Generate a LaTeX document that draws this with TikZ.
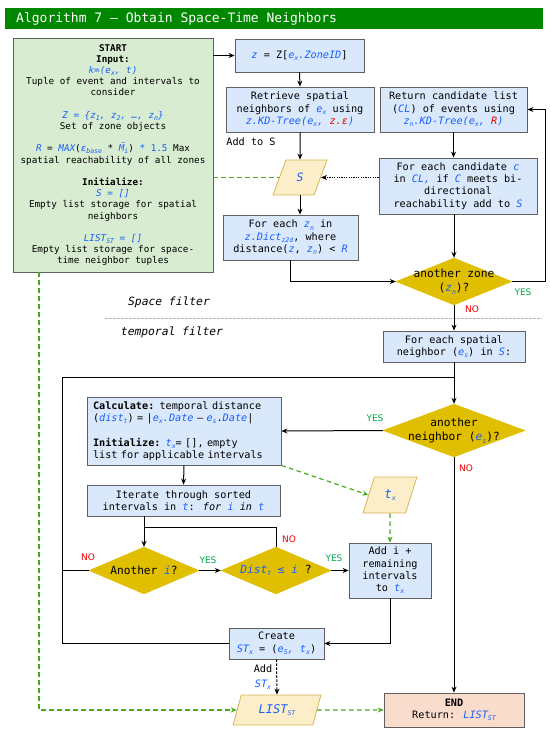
\documentclass[tikz,border=0pt]{standalone}
\usepackage{fontspec}
\setmainfont{DejaVu Sans Mono}
\newfontfamily\labfont{DejaVu Sans}
\usetikzlibrary{shapes.geometric,arrows.meta}
\definecolor{vblue}{RGB}{25,95,250}
\definecolor{vred}{RGB}{240,0,0}
\definecolor{boxblue}{RGB}{218,232,252}
\definecolor{boxline}{RGB}{95,95,95}
\definecolor{startfill}{RGB}{215,236,208}
\definecolor{gold}{RGB}{224,190,0}
\definecolor{parafill}{RGB}{252,238,200}
\definecolor{paraline}{RGB}{214,182,86}
\definecolor{endfill}{RGB}{250,220,205}
\definecolor{titlegreen}{RGB}{0,135,0}
\definecolor{gdash}{RGB}{70,170,30}
\definecolor{yesgreen}{RGB}{0,165,75}
\definecolor{nored}{RGB}{240,0,0}
\newcommand\lo[1]{\raisebox{-0.4ex}{\fontsize{6.5}{7}\selectfont #1}}
\newcommand\vb[1]{\textcolor{vblue}{\itshape #1}}
\newcommand\vr[1]{\textcolor{vred}{\itshape #1}}
\newcommand\mbarr{\makebox[0pt][l]{\kern0.12em\raisebox{0.42ex}{\textasciimacron}}M}
\begin{document}
\begin{tikzpicture}[x=1pt,y=-1pt,
  box/.style={draw=boxline, fill=boxblue, line width=0.8pt, inner sep=1pt, align=center, font=\fontsize{10.2}{12.3}\selectfont},
  dia/.style={diamond, fill=gold, draw=gold, inner sep=0pt},
  dtext/.style={align=center, inner sep=0pt, font=\fontsize{11.2}{14.5}\selectfont},
  para/.style={trapezium, trapezium left angle=70, trapezium right angle=110, trapezium stretches=true, fill=parafill, draw=paraline, line width=0.8pt, inner sep=0pt},
  arr/.style={-{Stealth[length=6pt,width=5pt]}, line width=1pt},
  ln/.style={line width=1pt},
  gd/.style={draw=gdash, line width=1.2pt, dash pattern=on 4.5pt off 3.5pt},
  yes/.style={text=yesgreen, inner sep=0pt, font=\labfont\fontsize{9}{10}\selectfont},
  no/.style={text=nored, inner sep=0pt, font=\labfont\fontsize{9}{10}\selectfont},
  plain/.style={inner sep=0pt, font=\fontsize{10.2}{12.3}\selectfont}
]
\useasboundingbox (0,0) rectangle (550,733);

% title
\node[fill=titlegreen, minimum width=538, minimum height=21, anchor=north west, inner sep=0pt] (tbar) at (5,8) {};
\node[anchor=west, text=white, inner sep=0pt, font=\fontsize{13}{15}\selectfont] (title) at (16,18.5) {Algorithm 7 – Obtain Space-Time Neighbors};

% start box
\node[draw=boxline, fill=startfill, line width=0.8pt, minimum width=200, minimum height=234, inner sep=0pt, align=center, font=\fontsize{9.3}{11.2}\selectfont] (start) at (113,155) {%
\textbf{START}\\
\textbf{Input:}\\
\vb{k=(e\lo{x}, t)}\\
Tuple of event and intervals to\\
consider\\[11.2pt]
\vb{Z = \{z\lo{1}, z\lo{2}, …, z\lo{n}\}}\\
Set of zone objects\\[11.2pt]
\vb{R} = \vb{MAX}(\vb{ε\lo{base}} * \vb{\mbarr\lo{i}}) \textcolor{vblue}{* 1.5} Max\\
spatial reachability of all zones\\[11.2pt]
\textbf{Initialize:}\\
\vb{S = []}\\
Empty list storage for spatial\\
neighbors\\[11.2pt]
\vb{LIST\lo{ST} = []}\\
Empty list storage for space-\\
time neighbor tuples};

% space filter part
\node[box, minimum width=129, minimum height=33] (zbox) at (299.5,55.5) {\vb{z} = Z[\vb{e\lo{x}.ZoneID}]};
\node[box, minimum width=148, minimum height=45] (retr) at (300,109.5) {Retrieve spatial\\neighbors of \vb{e\lo{x}} using\\\vb{z.KD-Tree(e\lo{x},} \vr{z.ε}\vb{)}};
\node[plain] (addS) at (251,142) {Add to S};
\node[para, minimum width=54, minimum height=35, font=\fontsize{11.5}{13}\selectfont] (S) at (300,177.5) {\vb{S}};
\node[box, minimum width=147, minimum height=45] (ret) at (453.5,109.5) {Return candidate list\\(\vb{CL}) of events using\\\vb{z\lo{n}.KD-Tree(e\lo{x},} \vr{R}\vb{)}};
\node[box, minimum width=158, minimum height=56] (cand) at (458,186) {For each candidate \vb{c}\\in \vb{CL,} if \vb{C} meets bi-\\directional\\reachability add to \vb{S}};
\node[box, minimum width=135, minimum height=45] (zn) at (290.5,237.5) {For each \vb{z\lo{n}} in\\\vb{z.Dict\lo{z2d}}, where\\distance(\vb{z}, \vb{z\lo{n}}) < \vb{R}};
\node[dia, minimum width=116, minimum height=47] (dz) at (454,281.5) {};
\node[dtext] (dzt) at (dz) {another zone\\(\vb{z\lo{n}})?};

% filter separator
\coordinate (sepL) at (105,318);
\coordinate (sepR) at (542,318);
\draw[draw=gray!60, line width=0.7pt, dash pattern=on 2.5pt off 1.5pt] (sepL) -- (sepR);
\node[inner sep=0pt, font=\itshape\fontsize{11.3}{13}\selectfont] (spf) at (169,302) {Space filter};
\node[inner sep=0pt, font=\itshape\fontsize{11.3}{13}\selectfont] (tpf) at (172,332) {temporal filter};

% temporal part
\node[box, minimum width=142, minimum height=31] (sn) at (454,346.5) {For each spatial\\neighbor (\vb{e\lo{s}}) in \vb{S}:};
\node[dia, minimum width=142, minimum height=53] (dn) at (454,430.5) {};
\node[dtext] (dnt) at (dn) {another\\neighbor (\vb{e\lo{s}})?};
\node[box, minimum width=194, minimum height=68, text width=182, align=left, inner sep=0pt] (calc) at (184,431) {\textbf{Calculate:} temporal distance\\(\vb{dist\lo{t}}) = |\vb{e\lo{x}.Date} – \vb{e\lo{s}}.\vb{Date}|\\[12.3pt]\textbf{Initialize:} \vb{t\lo{x}}= [], empty\\list for applicable intervals};
\node[box, minimum width=193, minimum height=31] (iter) at (183.5,500.5) {Iterate through sorted\\intervals in \vb{t}: \textit{for} \vb{i} \textit{in} \vb{t}};
\node[para, minimum width=54, minimum height=36, font=\fontsize{12.5}{14}\selectfont] (tx) at (390,495) {\vb{t\lo{x}}};
\node[dia, minimum width=110, minimum height=47] (di) at (144,570.5) {};
\node[dtext] (dit) at (di) {Another \vb{i}?};
\node[dia, minimum width=110, minimum height=47] (dd) at (276,570.5) {};
\node[dtext] (ddt) at (dd) {\vb{Dist\lo{t} ≤ i} ?};
\node[box, minimum width=82, minimum height=55] (addi) at (390,570.5) {Add i +\\remaining\\intervals\\to \vb{t\lo{x}}};
\node[box, minimum width=95, minimum height=31] (create) at (276.5,643.5) {Create\\\vb{ST\lo{x}} = (\vb{e\lo{S},} \vb{t\lo{x}})};
\node[para, minimum width=88, minimum height=30, font=\fontsize{12}{14}\selectfont] (list) at (277,710) {\vb{LIST\lo{ST}}};
\node[box, fill=endfill, minimum width=140, minimum height=34] (endb) at (454,710) {\textbf{END}\\Return: \vb{LIST\lo{ST}}};
\node[plain] (addl) at (263,669) {Add};
\node[plain] (stl) at (263,685) {\vb{ST\lo{x}}};

% coordinates
\coordinate (yx) at (545,281.5);
\coordinate (j1) at (454,377);
\coordinate (lx) at (62,641);
\coordinate (j2) at (144,527);
\coordinate (g1) at (39,272);

% connectors (space)
\draw[arr] (start.east |- zbox.west) -- (zbox.west);
\draw[arr] (zbox.south) -- (retr.north);
\draw[arr] (retr.south) -- (S.north);
\draw[arr] (S.south) -- (S.south |- zn.north);
\draw[arr] (zn.south) |- (dz.west);
\draw[arr] (ret.south) -- (ret.south |- cand.north);
\draw[arr] (dz.north |- cand.south) -- (dz.north);
\draw[arr] (dz.east) -- (yx) |- (ret.east);
\draw[-{Stealth[length=6pt,width=5pt]}, line width=1pt, dash pattern=on 1.2pt off 1.2pt] (cand.west |- S.east) -- (S.east);
\draw[gd, draw=gdash, line width=1.3pt] (start.east |- S.west) -- (S.west);
\draw[arr] (dz.south) -- (sn.north);

% connectors (temporal)
\draw[arr] (sn.south) -- (dn.north);
\draw[ln] (create.west) -| (j1 -| lx) -- (j1);
\draw[arr] (dn.west) -- (calc.east);
\draw[arr] (dn.south) -- (endb.north);
\draw[arr] (calc.south) -- (iter.north);
\draw[arr] (iter.south -| j2) -- (di.north);
\draw[ln] (dd.north) |- (j2);
\draw[ln] (di.west) -- (di.west -| lx);
\draw[arr] (di.east) -- (dd.west);
\draw[arr] (dd.east) -- (addi.west);
\draw[arr] (addi.south) |- (create.east);
\draw[-{Stealth[length=6pt,width=5pt]}, line width=1pt, dash pattern=on 2.5pt off 1.5pt] (create.south) -- (list.north);
\draw[gd, -{Stealth[length=6pt,width=5pt]}] (calc.south east) -- (tx.west);
\draw[gd, -{Stealth[length=6pt,width=5pt]}] (tx.south) -- (addi.north);
\draw[gd, -{Stealth[length=6pt,width=5pt]}] (g1) |- (list.west);
\draw[gd, -{Stealth[length=6pt,width=5pt]}] (list.east) -- (endb.west);

% labels
\node[yes] (y1) at (523,292) {YES};
\node[no] (n1) at (472,309) {NO};
\node[yes] (y2) at (375,418) {YES};
\node[no] (n2) at (466,468) {NO};
\node[no] (n3) at (88,557) {NO};
\node[yes] (y3) at (208,560) {YES};
\node[no] (n4) at (289,539) {NO};
\node[yes] (y4) at (334,558) {YES};
\end{tikzpicture}
\end{document}
